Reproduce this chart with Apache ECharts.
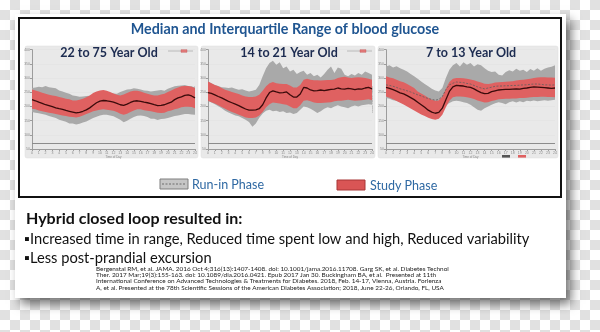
<!DOCTYPE html>
<html>
<head>
<meta charset="utf-8">
<script src="https://cdn.jsdelivr.net/npm/echarts@6/dist/echarts.min.js"></script>
<style>
  html, body { margin: 0; padding: 0; }
  #chart {
    width: 600px; height: 332px;
    background-color: #ffffff;
    background-image: conic-gradient(#e1e1e1 25%, #ffffff 0 50%, #e1e1e1 0 75%, #ffffff 0);
    background-size: 20px 20px;
  }
</style>
</head>
<body>
<div id="chart"></div>
<script>
// ---- time categories (half-hourly over 24 h) ----
const hours = ['0:00','0:30','1:00','1:30','2:00','2:30','3:00','3:30','4:00','4:30','5:00','5:30','6:00','6:30','7:00','7:30','8:00','8:30','9:00','9:30','10:00','10:30','11:00','11:30','12:00','12:30','13:00','13:30','14:00','14:30','15:00','15:30','16:00','16:30','17:00','17:30','18:00','18:30','19:00','19:30','20:00','20:30','21:00','21:30','22:00','22:30','23:00','23:30','24:00'];

// ---- y axis (mg/dL) ----
const yMin = 50, yMax = 400, yStep = 50, lowLine = 70;

// ---- 22 to 75 years ----
const adultRunInHigh = [265,267,269,268,272,268,266,264,256,253,248,245,239,237,234,235,237,238,242,247,251,253,251,248,246,245,251,255,260,261,264,262,260,256,255,253,254,256,258,255,262,267,271,273,274,276,272,271,267];
const adultRunInLow  = [180,178,176,173,171,166,163,159,153,150,146,140,140,136,139,143,147,153,159,164,168,171,171,168,165,159,153,144,150,157,163,167,168,166,163,157,157,152,156,157,159,163,166,168,171,173,173,172,171];
const adultStudyHigh = [260,256,253,248,245,241,239,237,233,231,227,225,221,221,224,227,232,239,247,253,256,258,255,251,246,241,239,242,247,253,255,255,253,248,245,241,239,239,242,245,251,256,262,267,271,272,272,269,265];
const adultStudyLow  = [192,190,186,183,180,178,176,173,171,168,166,164,163,161,164,168,173,178,183,186,188,190,188,187,185,180,174,171,174,180,186,190,190,187,185,183,180,178,177,178,183,186,190,193,197,199,199,198,194];
const adultStudyMedian = [224,220,215,211,206,203,199,195,192,190,186,183,180,177,179,183,188,195,204,213,219,221,220,218,215,211,206,204,208,214,219,220,218,215,213,210,206,203,204,206,211,215,224,230,234,239,241,237,230];

// ---- 14 to 21 years ----
const teenRunInHigh = [288,282,276,272,268,267,265,267,262,259,261,256,253,255,259,276,306,335,353,361,347,356,335,341,323,329,314,321,326,312,318,306,312,302,314,329,341,318,337,333,312,306,314,309,318,312,323,318,312];
const teenRunInLow  = [219,214,208,201,194,185,179,173,168,165,159,153,145,128,140,160,175,185,188,183,185,180,183,177,179,173,177,188,200,197,192,185,177,183,192,197,194,200,204,200,197,194,200,203,200,204,206,208,206];
const teenStudyHigh = [288,282,276,271,265,259,255,251,247,244,239,235,233,233,235,241,255,271,282,286,282,280,279,279,274,267,267,276,294,298,294,292,292,291,292,293,293,295,300,303,305,302,300,302,303,302,300,298,294];
const teenStudyLow  = [220,215,210,204,198,192,186,180,176,171,166,161,159,159,161,168,180,197,208,214,212,210,208,206,200,194,194,204,220,222,218,214,212,212,213,214,215,218,220,220,222,224,222,220,221,222,224,225,222];
const teenStudyMedian = [249,246,241,235,230,224,218,213,208,203,197,191,187,187,188,192,206,230,249,255,251,248,249,251,241,233,233,244,267,265,258,255,256,258,256,258,260,261,265,262,261,264,262,259,262,261,265,267,262];

// ---- 7 to 13 years ----
const childRunInHigh = [341,345,337,342,335,329,323,314,306,298,288,279,271,262,256,253,265,300,329,345,353,341,356,347,353,341,349,345,335,326,321,323,312,309,321,328,323,333,326,329,321,332,326,335,326,333,337,340,345];
const childRunInLow  = [230,227,222,220,215,212,208,206,204,203,200,199,197,194,194,194,197,204,212,218,220,218,215,212,206,197,188,185,194,200,206,211,215,212,208,215,218,214,218,215,220,218,221,218,220,222,220,222,224];
const childRunInMedian = [276,274,271,267,262,259,255,251,246,241,237,232,228,225,222,225,235,259,276,282,286,285,284,281,279,274,269,265,262,265,268,271,272,272,273,273,274,274,275,276,276,278,279,279,278,276,276,275,276];
const childStudyHigh = [306,302,299,294,289,285,279,272,265,253,246,239,231,224,220,221,235,262,286,298,300,300,299,298,295,292,288,284,280,279,281,284,285,286,287,288,289,291,293,294,296,298,300,302,303,303,302,302,301];
const childStudyLow  = [235,231,225,219,213,207,200,193,186,179,172,166,160,156,153,157,171,197,220,232,235,235,234,232,230,226,221,217,214,215,219,222,225,226,227,227,228,228,230,230,231,232,233,233,234,234,233,233,232];
const childStudyMedian = [267,264,259,254,248,244,238,231,224,215,206,197,187,180,176,179,194,224,253,269,274,273,272,269,267,262,255,249,245,246,252,255,258,259,260,260,261,262,261,264,265,267,269,268,267,266,265,264,265];

// ---- text ----
const mainTitle = 'Median and Interquartile Range of blood glucose';
const panelTitles = ['22 to 75 Year Old', '14 to 21 Year Old', '7 to 13 Year Old'];
const legendNames = ['Run-in Phase', 'Study Phase'];
const headline = 'Hybrid closed loop resulted in:';
const bullets = ['\u25AAIncreased time in range, Reduced time spent low and high, Reduced variability', '\u25AALess post-prandial excursion'];
const citations = [
  'Bergenstal RM, et al. JAMA. 2016 Oct 4;316(13):1407-1408. doi: 10.1001/jama.2016.11708. Garg SK, et al. Diabetes Technol',
  'Ther. 2017 Mar;19(3):155-163. doi: 10.1089/dia.2016.0421. Epub 2017 Jan 30. Buckingham BA, et al.  Presented at 11th',
  'International Conference on Advanced Technologies & Treatments for Diabetes. 2018, Feb. 14-17, Vienna, Austria. Forlenza',
  'A, et al. Presented at the 78th Scientific Sessions of the American Diabetes Association; 2018, June 22-26, Orlando, FL, USA'
];

// ---- layout / style ----
const GRAY = '#a9a9a9', RED = '#df6161', MED = '#3a0b0b';
const panels = [
  {low: adultRunInLow, high: adultRunInHigh, med: null, sLow: adultStudyLow, sHigh: adultStudyHigh, sMed: adultStudyMedian,
   grid: {left: 32, top: 49.7, width: 163, height: 99.3}, bg: [25, 46, 173, 112], title: [109, 53]},
  {low: teenRunInLow, high: teenRunInHigh, med: null, sLow: teenStudyLow, sHigh: teenStudyHigh, sMed: teenStudyMedian,
   grid: {left: 208, top: 49.7, width: 164, height: 99.3}, bg: [201, 46, 174, 112], title: [289, 53]},
  {low: childRunInLow, high: childRunInHigh, med: childRunInMedian, sLow: childStudyLow, sHigh: childStudyHigh, sMed: childStudyMedian,
   grid: {left: 386, top: 49.7, width: 169, height: 99.3}, bg: [378, 46, 180, 112], title: [471, 53]}
];

const grids = [], xAxes = [], yAxes = [], series = [];
panels.forEach((p, i) => {
  grids.push(Object.assign({containLabel: false}, p.grid));
  xAxes.push({
    type: 'category', gridIndex: i, data: hours, boundaryGap: false,
    axisLine: {lineStyle: {color: '#9c9c9c', width: 1}},
    axisTick: {interval: 1, length: 2, lineStyle: {color: '#9c9c9c'}},
    axisLabel: {interval: 1, fontSize: 3.5, color: '#8a8a8a', margin: 2, formatter: v => v.split(':')[0]},
    splitLine: {show: false},
    name: 'Time of Day', nameLocation: 'middle', nameGap: 6, nameTextStyle: {fontSize: 3, color: '#888'}
  });
  yAxes.push({
    type: 'value', gridIndex: i, min: yMin, max: yMax, interval: yStep,
    axisLine: {show: true, lineStyle: {color: '#9c9c9c', width: 1}},
    axisTick: {show: true, length: 2, lineStyle: {color: '#9c9c9c'}},
    axisLabel: {fontSize: 3.5, color: '#8a8a8a', margin: 2},
    splitLine: {show: true, lineStyle: {color: '#e0e0e0', width: 0.5}},
    name: 'Sensor Glucose (mg/dL)', nameLocation: 'middle', nameGap: 4, nameTextStyle: {fontSize: 2.5, color: '#888'}
  });
  const common = {xAxisIndex: i, yAxisIndex: i, symbol: 'none', silent: true, smooth: false};
  series.push(Object.assign({}, common, {
    type: 'line', name: 'runLow' + i, stack: 'g' + i, data: p.low, lineStyle: {opacity: 0},
    markLine: {silent: true, symbol: 'none', label: {show: false},
      lineStyle: {color: '#8c8c8c', width: 1, type: 'solid'}, data: [{yAxis: lowLine}]}
  }));
  series.push(Object.assign({}, common, {
    type: 'line', name: legendNames[0], stack: 'g' + i, data: p.high.map((v, j) => v - p.low[j]),
    lineStyle: {opacity: 0}, areaStyle: {color: GRAY, opacity: 1}
  }));
  if (p.med) {
    series.push(Object.assign({}, common, {
      type: 'line', name: 'runMed' + i, data: p.med, lineStyle: {color: '#5e5e5e', width: 0.8, type: [2, 1.5]}
    }));
  }
  series.push(Object.assign({}, common, {
    type: 'line', name: 'studyLow' + i, stack: 's' + i, data: p.sLow, lineStyle: {opacity: 0}
  }));
  series.push(Object.assign({}, common, {
    type: 'line', name: legendNames[1], stack: 's' + i, data: p.sHigh.map((v, j) => v - p.sLow[j]),
    lineStyle: {opacity: 0}, areaStyle: {color: RED, opacity: 1}
  }));
  series.push(Object.assign({}, common, {
    type: 'line', name: 'studyMed' + i, data: p.sMed, lineStyle: {color: MED, width: 1.3}
  }));
});

function txt(x, y, text, font, fill, align, z) {
  return {type: 'text', x: x, y: y, z: z || 100, silent: true,
    style: {text: text, font: font, fill: fill, align: align || 'left', verticalAlign: 'middle',
            textAlign: align || 'left', textVerticalAlign: 'middle'}};
}

const graphics = [
  // slide with drop shadow
  {type: 'rect', z: -20, silent: true, shape: {x: 15, y: 14, width: 551, height: 284},
   style: {fill: '#ffffff', shadowBlur: 10, shadowOffsetX: 5, shadowOffsetY: 6, shadowColor: 'rgba(0,0,0,0.55)'}},
  // framed box
  {type: 'rect', z: 50, silent: true, shape: {x: 19, y: 18, width: 542, height: 179},
   style: {fill: 'none', stroke: '#111', lineWidth: 2}},
  txt(285, 29, mainTitle, 'bold 14.3px Lato', '#1f5591', 'center')
];
panels.forEach((p, i) => {
  graphics.push({type: 'rect', z: -10, silent: true, shape: {x: p.bg[0], y: p.bg[1], width: p.bg[2], height: p.bg[3], r: 2},
    style: {fill: '#e9e9e9', stroke: '#dedede', lineWidth: 0.5}});
  graphics.push(txt(p.title[0], p.title[1], panelTitles[i], 'bold 12.5px Lato', '#1c2b50', 'center'));
});
// tiny in-panel legends
[[168, 51], [347, 51]].forEach(pos => {
  graphics.push({type: 'line', z: 60, silent: true, shape: {x1: pos[0], y1: pos[1], x2: pos[0] + 25, y2: pos[1]}, style: {stroke: '#9a9a9a', lineWidth: 0.6}});
  graphics.push({type: 'rect', z: 61, silent: true, shape: {x: pos[0] + 13, y: pos[1] - 1.3, width: 6, height: 2.6}, style: {fill: '#e27a7a', stroke: '#c05050', lineWidth: 0.4}});
});
graphics.push({type: 'rect', z: 60, silent: true, shape: {x: 502, y: 155, width: 8, height: 2.6}, style: {fill: '#555'}});
graphics.push({type: 'rect', z: 60, silent: true, shape: {x: 518, y: 155, width: 8, height: 2.6}, style: {fill: '#df6161'}});
// main legend
graphics.push({type: 'rect', z: 60, silent: true, shape: {x: 160, y: 179, width: 28, height: 10},
  style: {fill: '#c6c6c6', stroke: '#7e7e7e', lineWidth: 1}});
graphics.push({type: 'line', z: 61, silent: true, shape: {x1: 162, y1: 184, x2: 186, y2: 184},
  style: {stroke: '#555', lineWidth: 0.8, lineDash: [2, 1.5]}});
graphics.push(txt(192, 185, legendNames[0], '12.5px Lato', '#2f69a3', 'left'));
graphics.push({type: 'rect', z: 60, silent: true, shape: {x: 337, y: 180, width: 28, height: 10},
  style: {fill: '#d95555', stroke: '#a83636', lineWidth: 1}});
graphics.push(txt(370, 186, legendNames[1], '12.5px Lato', '#2f69a3', 'left'));
// text below the frame
graphics.push(txt(26, 219, headline, 'bold 16px Lato', '#111', 'left'));
graphics.push(txt(24, 239.5, bullets[0], '14.7px Lato', '#111', 'left'));
graphics.push(txt(24, 258.5, bullets[1], '14.7px Lato', '#111', 'left'));
citations.forEach((c, i) => graphics.push(txt(96, 269 + i * 6.2, c, '6.4px Lato', '#222', 'left')));

const chart = echarts.init(document.getElementById('chart'), null, {renderer: 'canvas'});
chart.setOption({
  backgroundColor: 'transparent',
  animation: false,
  tooltip: {show: false},
  grid: grids, xAxis: xAxes, yAxis: yAxes,
  series: series,
  graphic: graphics
});
</script>
</body>
</html>
